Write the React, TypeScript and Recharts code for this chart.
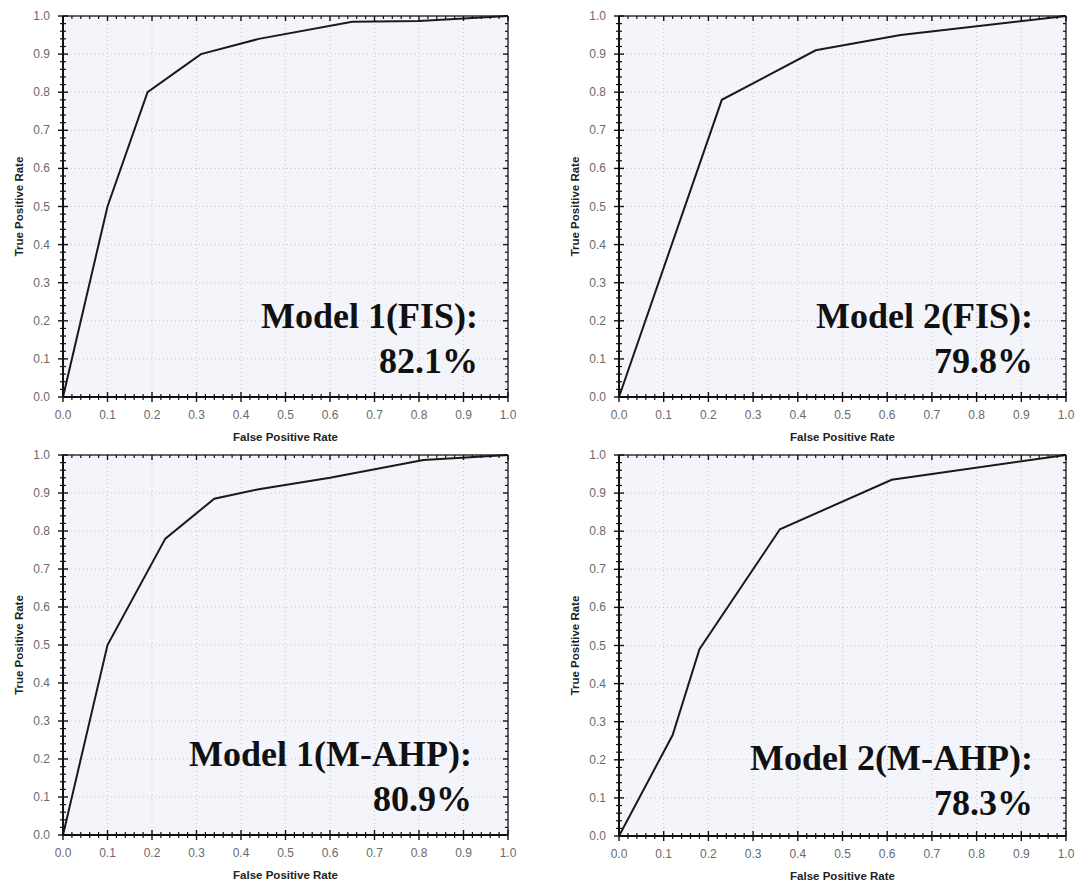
import { LineChart, Line, XAxis, YAxis, CartesianGrid, ReferenceLine } from "recharts";

const MAJOR_TICKS = [0, 0.1, 0.2, 0.3, 0.4, 0.5, 0.6, 0.7, 0.8, 0.9, 1];
const TICK_LABELS = ["0.0", "0.1", "0.2", "0.3", "0.4", "0.5", "0.6", "0.7", "0.8", "0.9", "1.0"];
const MINOR_PER_MAJOR = 5;

// ROC points
const M1_FIS_FPR = [0, 0.1, 0.19, 0.31, 0.44, 0.65, 0.8, 1];
const M1_FIS_TPR = [0, 0.5, 0.8, 0.9, 0.94, 0.985, 0.987, 1];

const M2_FIS_FPR = [0, 0.23, 0.44, 0.63, 1];
const M2_FIS_TPR = [0, 0.78, 0.91, 0.95, 1];

const M1_AHP_FPR = [0, 0.1, 0.23, 0.34, 0.44, 0.6, 0.81, 1];
const M1_AHP_TPR = [0, 0.5, 0.78, 0.885, 0.91, 0.94, 0.987, 1];

const M2_AHP_FPR = [0, 0.12, 0.18, 0.36, 0.61, 1];
const M2_AHP_TPR = [0, 0.265, 0.49, 0.805, 0.935, 1];

const PLOT_BG = "#f4f5fa";
const GRID_STROKE = "#c6c7d0";
const AXIS_COLOR = "#111";
const TICK_TEXT = "#6a6a6a";
const SANS = "'Liberation Sans', Arial, sans-serif";
const SERIF = "'Liberation Serif', 'Times New Roman', serif";

const labelFor = (v: number) => TICK_LABELS[MAJOR_TICKS.findIndex((t) => Math.abs(t - v) < 1e-6)] ?? "";

type PanelProps = {
  left: number;
  top: number;
  pw: number;
  ph: number;
  fpr: number[];
  tpr: number[];
  title: string;
  score: string;
  noteX: number;
  noteY: number;
};

function RocPanel({ left, top, pw, ph, fpr, tpr, title, score, noteX, noteY }: PanelProps) {
  const data = fpr.map((x, i) => ({ fpr: x, tpr: tpr[i] }));
  const ML = 18;
  const YW = 45;
  const MT = 16;
  const XH = 50;
  const MR = 12;
  const width = ML + YW + pw + MR;
  const height = MT + ph + XH;
  const plotLeft = ML + YW;
  const step = 1 / (MAJOR_TICKS.length - 1) / MINOR_PER_MAJOR;

  const XTick = (p: any) => {
    const { x, y, payload } = p;
    const v = payload.value as number;
    const minors = [];
    for (let k = 1; k < MINOR_PER_MAJOR && v < 1 - 1e-6; k++) {
      const mx = x + k * step * pw;
      minors.push(
        <g key={k}>
          <line x1={mx} x2={mx} y1={y - 3} y2={y + 3} stroke={AXIS_COLOR} strokeWidth={1.2} />
          <line x1={mx} x2={mx} y1={y - ph} y2={y - ph + 3} stroke={AXIS_COLOR} strokeWidth={1.2} />
        </g>
      );
    }
    return (
      <g>
        <line x1={x} x2={x} y1={y - 5} y2={y + 5} stroke={AXIS_COLOR} strokeWidth={1.4} />
        <line x1={x} x2={x} y1={y - ph} y2={y - ph + 5} stroke={AXIS_COLOR} strokeWidth={1.4} />
        {minors}
        <text x={x} y={y + 18} textAnchor="middle" dominantBaseline="central" fontFamily={SANS} fontSize={12} fill={TICK_TEXT}>
          {labelFor(v)}
        </text>
      </g>
    );
  };

  const YTick = (p: any) => {
    const { x, y, payload } = p;
    const v = payload.value as number;
    const minors = [];
    for (let k = 1; k < MINOR_PER_MAJOR && v < 1 - 1e-6; k++) {
      const my = y - k * step * ph;
      minors.push(
        <g key={k}>
          <line x1={x - 3} x2={x + 3} y1={my} y2={my} stroke={AXIS_COLOR} strokeWidth={1.2} />
          <line x1={x + pw} x2={x + pw - 3} y1={my} y2={my} stroke={AXIS_COLOR} strokeWidth={1.2} />
        </g>
      );
    }
    return (
      <g>
        <line x1={x - 5} x2={x + 5} y1={y} y2={y} stroke={AXIS_COLOR} strokeWidth={1.4} />
        <line x1={x + pw} x2={x + pw - 5} y1={y} y2={y} stroke={AXIS_COLOR} strokeWidth={1.4} />
        {minors}
        <text x={x - 13} y={y} textAnchor="end" dominantBaseline="central" fontFamily={SANS} fontSize={12} fill={TICK_TEXT}>
          {labelFor(v)}
        </text>
      </g>
    );
  };

  return (
    <div style={{ position: "absolute", left, top }}>
      <LineChart width={width} height={height} data={data} margin={{ top: MT, right: MR, left: ML, bottom: 0 }}>
        <CartesianGrid fill={PLOT_BG} stroke={GRID_STROKE} strokeDasharray="1 3" />
        <ReferenceLine y={1} stroke="#333" strokeWidth={1.5} />
        <ReferenceLine x={1} stroke="#333" strokeWidth={1.5} />
        <XAxis
          dataKey="fpr"
          type="number"
          domain={[0, 1]}
          ticks={MAJOR_TICKS}
          interval={0}
          height={XH}
          tickSize={0}
          tickMargin={0}
          tickLine={false}
          axisLine={{ stroke: AXIS_COLOR, strokeWidth: 2 }}
          tick={XTick}
        />
        <YAxis
          type="number"
          domain={[0, 1]}
          ticks={MAJOR_TICKS}
          interval={0}
          width={YW}
          tickSize={0}
          tickMargin={0}
          tickLine={false}
          axisLine={{ stroke: AXIS_COLOR, strokeWidth: 2 }}
          tick={YTick}
        />
        <Line
          type="linear"
          dataKey="tpr"
          stroke="#1a1a1a"
          strokeWidth={2}
          dot={false}
          isAnimationActive={false}
        />
        <text
          x={plotLeft + pw / 2}
          y={MT + ph + 40}
          textAnchor="middle"
          dominantBaseline="central"
          fontFamily={SANS}
          fontWeight="bold"
          fontSize={11.5}
          fill="#222"
        >
          False Positive Rate
        </text>
        <text
          transform={`translate(19, ${MT + ph / 2}) rotate(-90)`}
          textAnchor="middle"
          dominantBaseline="central"
          fontFamily={SANS}
          fontWeight="bold"
          fontSize={11.5}
          fill="#222"
        >
          True Positive Rate
        </text>
        <text x={noteX} y={noteY} textAnchor="end" fontFamily={SERIF} fontWeight="bold" fontSize={36} fill="#111">
          {title}
        </text>
        <text x={noteX} y={noteY + 45} textAnchor="end" fontFamily={SERIF} fontWeight="bold" fontSize={36} fill="#111">
          {score}
        </text>
      </LineChart>
    </div>
  );
}

export default function App() {
  return (
    <div style={{ position: "absolute", left: 0, top: 0, width: 1075, height: 881, background: "#fff" }}>
      <RocPanel left={0} top={0} pw={445} ph={381} fpr={M1_FIS_FPR} tpr={M1_FIS_TPR} title="Model 1(FIS):" score="82.1%" noteX={478} noteY={328} />
      <RocPanel left={556} top={0} pw={447} ph={381} fpr={M2_FIS_FPR} tpr={M2_FIS_TPR} title="Model 2(FIS):" score="79.8%" noteX={477} noteY={328} />
      <RocPanel left={0} top={439} pw={445} ph={380} fpr={M1_AHP_FPR} tpr={M1_AHP_TPR} title="Model 1(M-AHP):" score="80.9%" noteX={472} noteY={327} />
      <RocPanel left={556} top={439} pw={447} ph={381} fpr={M2_AHP_FPR} tpr={M2_AHP_TPR} title="Model 2(M-AHP):" score="78.3%" noteX={477} noteY={331} />
    </div>
  );
}
